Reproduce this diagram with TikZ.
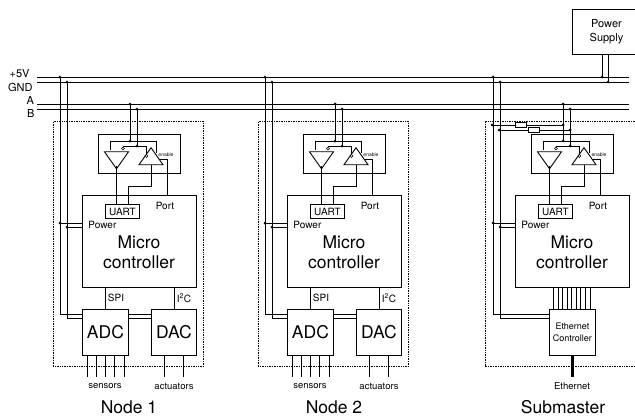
\documentclass[tikz,border=0pt]{standalone}
\usepackage{fontspec}
\setmainfont{TeX Gyre Heros}
\usetikzlibrary{shapes.geometric}
\begin{document}
\begin{tikzpicture}[x=1pt, y=-1pt, line width=0.9pt, every node/.style={align=center, inner sep=0pt},
  kasten/.style={draw, minimum width=#1, anchor=north west},
  gross/.style={font=\fontsize{17.5}{20.5}\selectfont},
  mittel/.style={font=\fontsize{10}{13}\selectfont},
  busname/.style={font=\fontsize{11}{13}\selectfont, anchor=east},
  klein/.style={font=\fontsize{9.5}{12}\selectfont},
  winzig/.style={font=\fontsize{5}{6}\selectfont},
  punkt/.style={fill, circle, minimum size=3pt},
  blase/.style={draw, fill=white, circle, minimum size=3pt, line width=0.6pt},
  rahmen/.style={densely dotted, line width=0.7pt},
  dreieck/.style={draw, isosceles triangle, isosceles triangle stretches, isosceles triangle apex angle=70,
    shape border rotate=#1, minimum width=24pt, minimum height=17pt},
  widerstand/.style={draw, fill=white, minimum width=11pt, minimum height=5pt}]
\useasboundingbox (0,0) rectangle (635,418);
% bus
\coordinate (vccL) at (37,77); \coordinate (vccR) at (629,77);
\coordinate (gndL) at (37,82); \coordinate (gndR) at (629,82);
\coordinate (aL) at (37,104); \coordinate (aR) at (629,104);
\coordinate (bL) at (37,109); \coordinate (bR) at (629,109);
\draw (vccL) -- (vccR); \draw (gndL) -- (gndR); \draw (aL) -- (aR); \draw (bL) -- (bR);
\node[busname] (lvcc) at (30,74) {+5V};
\node[busname] (lgnd) at (33,87) {GND};
\node[busname] (la) at (34.5,100) {A};
\node[busname] (lb) at (35,113) {B};
% common part of every node
\foreach \n/\dx in {a/0, b/205, c/433}{
  \begin{scope}[xshift=\dx pt]
  \node[kasten=82pt, minimum height=39pt] (treiber\n) at (98,134) {};
  \node[kasten=114pt, minimum height=92pt] (mc\n) at (82,195) {};
  \node[gross] (mctext\n) at (139,252) {Micro\\controller};
  \node[kasten=34pt, minimum height=14pt, mittel] (uart\n) at (105,204) {UART};
  \node[mittel] (port\n) at (165,206) {Port};
  \node[mittel, anchor=west] (power\n) at (88,225) {Power};
  \node[winzig] (enable\n) at (166,155) {enable};
  \node[dreieck=-90] (drv\n) at (116.5,158) {};
  \node[dreieck=90] (rcv\n) at (151,158.5) {};
  \node[blase] (drvb\n) at (123,148.5) {};
  \node[blase] (rcvb\n) at (146.5,156) {};
  \coordinate (va\n) at (130,141); \coordinate (vb\n) at (137,146);
  \coordinate (pwr1\n) at (60,223); \coordinate (pwr2\n) at (67,227);
  \coordinate (low1\n) at (60,314); \coordinate (low2\n) at (67,318);
  % data lines
  \draw (va\n |- aL) -- (va\n); \draw (vb\n |- bL) -- (vb\n);
  \node[punkt] (pa\n) at (va\n |- aL) {}; \node[punkt] (pb\n) at (vb\n |- bL) {};
  \node[punkt] (qa\n) at (va\n) {}; \node[punkt] (qb\n) at (vb\n) {};
  \draw (va\n) -| (110,150);
  \draw (va\n) -| (156,153);
  \draw (vb\n) -| (drvb\n.north);
  \draw (vb\n) -| (rcvb\n.north);
  \draw (drv\n.south |- 0,166) -- (uart\n.north -| drv\n.south);
  \draw (rcv\n.south) |- (128,186) -- (128,204);
  \draw (167,195) |- (159,159);
  % power rails
  \draw (pwr1\n |- vccL) -- (low1\n);
  \draw (pwr2\n |- gndL) -- (low2\n);
  \node[punkt] (pv\n) at (pwr1\n |- vccL) {}; \node[punkt] (pg\n) at (pwr2\n |- gndL) {};
  \node[punkt] (p1\n) at (pwr1\n) {}; \node[punkt] (p2\n) at (pwr2\n) {};
  \draw (pwr1\n) -- (pwr1\n -| mc\n.west);
  \draw (pwr2\n) -- (pwr2\n -| mc\n.west);
  \end{scope}
}
% sensor nodes
\foreach \n/\dx/\name in {a/0/Node 1, b/205/Node 2}{
  \begin{scope}[xshift=\dx pt]
  \node[kasten=150pt, minimum height=245pt, rahmen] (rahmen\n) at (53,121) {};
  \node[kasten=46pt, minimum height=46pt, gross] (adc\n) at (82,309) {ADC};
  \node[kasten=45pt, minimum height=46pt, gross] (dac\n) at (151,309) {DAC};
  \draw (low1\n) -- (adc\n.west |- low1\n);
  \draw (low2\n) -- (adc\n.west |- low2\n);
  \draw (adc\n.east |- low1\n) -- (dac\n.west |- low1\n);
  \draw (adc\n.east |- low2\n) -- (dac\n.west |- low2\n);
  \draw (105,287) -- (105,309);
  \draw (174,287) -- (174,309);
  \node[mittel] (spi\n) at (116,298) {SPI};
  \node[mittel] (iic\n) at (184,298) {I\textsuperscript{2}C};
  \foreach \x in {87,96.5,105.5,114.5,124}{ \draw (\x,355) -- (\x,377); }
  \foreach \x in {164,183}{ \draw (\x,355) -- (\x,377); }
  \node[klein] (sens\n) at (105,386) {sensors};
  \node[klein] (akt\n) at (174,386) {actuators};
  \node[gross, anchor=base] (name\n) at (129,413) {\name};
  \end{scope}
}
% submaster
\draw[rahmen] (635,121) -| (485,366) -- (635,366);
\node[kasten=46pt, minimum height=46pt, font=\fontsize{9}{11.5}\selectfont] (eth) at (549,309) {Ethernet\\Controller};
\draw (low1c) -- (eth.west |- low1c);
\draw (low2c) -- (eth.west |- low2c);
\foreach \x in {553.7,558.3,562.7,567.3,571.7,576.3,580.7,585.3,590}{ \draw (\x,287) -- (\x,309); }
\draw[line width=2.6pt] (eth.south) -- (eth.south |- 0,377);
\node[klein] (ethl) at (572,386) {Ethernet};
\node[gross, anchor=base] (namec) at (563,413) {Submaster};
% terminating resistors
\coordinate (ra) at (492,125); \coordinate (rb) at (499,130);
\draw (ra) -- (vac |- ra); \draw (rb) -- (vbc |- rb);
\node[widerstand] (r1) at (520.5,125) {};
\node[widerstand] (r2) at (534,130) {};
\node[punkt] (ra1) at (ra) {}; \node[punkt] (rb1) at (rb) {};
\node[punkt] (ra2) at (vac |- ra) {}; \node[punkt] (rb2) at (vbc |- rb) {};
% power supply
\node[kasten=69pt, minimum height=45pt, font=\fontsize{11}{14}\selectfont] (ps) at (571.5,9) {Power\\Supply};
\coordinate (ps1) at (602,54); \coordinate (ps2) at (608,54);
\draw (ps1) -- (ps1 |- vccL); \draw (ps2) -- (ps2 |- gndL);
\node[punkt] (psv) at (ps1 |- vccL) {}; \node[punkt] (psg) at (ps2 |- gndL) {};
\end{tikzpicture}
\end{document}
